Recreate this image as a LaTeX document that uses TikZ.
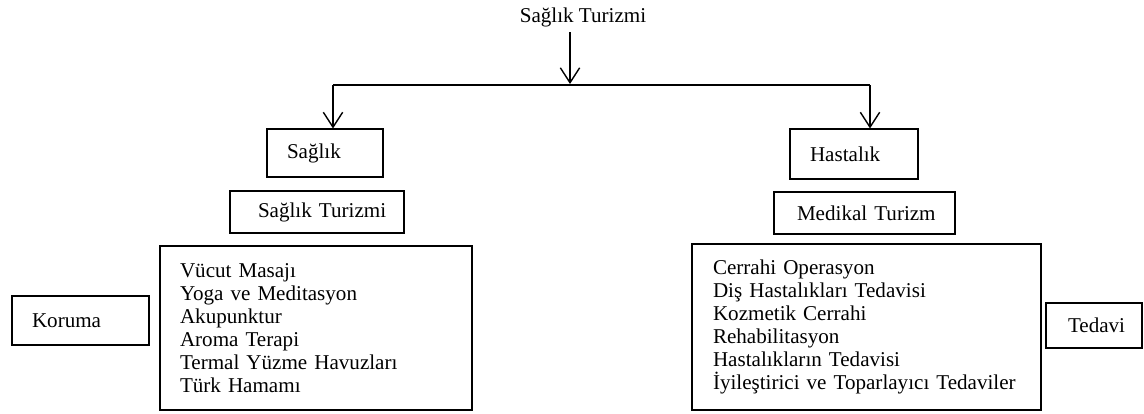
\documentclass[tikz,border=0pt]{standalone}
\usepackage{fontspec}
\setmainfont{Liberation Serif}
\usetikzlibrary{arrows.meta}
\newdimen\pxu \pxu=0.02cm
\begin{document}
\begin{tikzpicture}[x=0.02cm,y=-0.02cm,
  every node/.style={font=\fontsize{12}{13.1}\selectfont},
  box/.style={draw,line width=0.6pt,rectangle,align=left,inner ysep=0pt},
  arr/.style={line width=0.8pt,-{Straight Barb[length=8.5pt,width=11pt,line width=0.8pt]}},
  bar/.style={line width=1pt}]
\useasboundingbox (0,0) rectangle (1144,413);

% title
\node (title) at (583,17) {Sağlık Turizmi};

% level boxes: centre, width, height, left padding
\node[box,minimum width=116\pxu,minimum height=48\pxu,inner xsep=20\pxu,text width=76\pxu]
  (saglik) at (325,153) {\mbox{Sağlık}};
\node[box,minimum width=128\pxu,minimum height=50\pxu,inner xsep=20\pxu,text width=88\pxu]
  (hastalik) at (854,154) {\mbox{Hastalık}};
\node[box,minimum width=174\pxu,minimum height=42\pxu,inner xsep=28\pxu,text width=118\pxu]
  (sturizm) at (317,212) {\mbox{Sağlık Turizmi}};
\node[box,minimum width=181\pxu,minimum height=42\pxu,inner xsep=23\pxu,text width=135\pxu]
  (mturizm) at (864.5,213) {\mbox{Medikal Turizm}};

% lists
\node[box,minimum width=312\pxu,minimum height=164\pxu,inner xsep=20\pxu,text width=272\pxu]
  (llist) at (316,328) {Vücut Masajı\\Yoga ve Meditasyon\\Akupunktur\\Aroma Terapi\\Termal Yüzme Havuzları\\Türk Hamamı};
\node[box,minimum width=349\pxu,minimum height=166\pxu,inner xsep=21\pxu,text width=307\pxu]
  (rlist) at (866.5,327) {Cerrahi Operasyon\\Diş Hastalıkları Tedavisi\\Kozmetik Cerrahi\\Rehabilitasyon\\Hastalıkların Tedavisi\\İyileştirici ve Toparlayıcı Tedaviler};

% side labels
\node[box,minimum width=137\pxu,minimum height=49\pxu,inner xsep=20\pxu,text width=97\pxu]
  (koruma) at (80.5,320.5) {\mbox{Koruma}};
\node[box,minimum width=96\pxu,minimum height=45\pxu,inner xsep=22\pxu,text width=52\pxu]
  (tedavi) at (1094,325.5) {\mbox{Tedavi}};

% connectors
\coordinate (top) at (570,32);
\coordinate (jn) at (570,84);
\coordinate (barl) at (333,85);
\coordinate (barr) at (870,85);
\draw[arr] (top) -- (jn);
\draw[bar] (barl) -- (barr);
\draw[arr] (barl) -- (saglik.north -| barl);
\draw[arr] (barr) -- (hastalik.north -| barr);
\end{tikzpicture}
\end{document}
